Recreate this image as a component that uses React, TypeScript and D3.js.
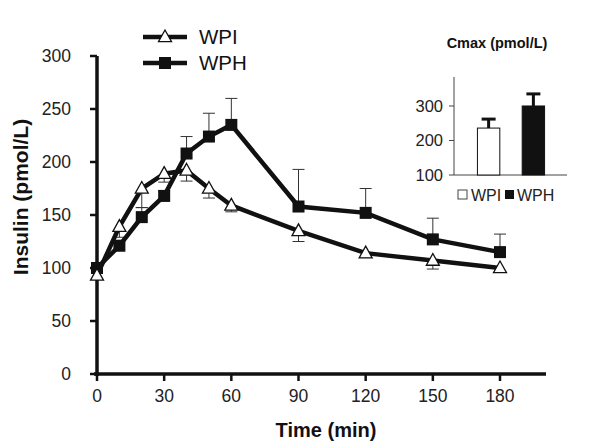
import * as d3 from 'd3';

const times = [0, 10, 20, 30, 40, 50, 60, 90, 120, 150, 180];
const wpi = [93, 139, 175, 189, 192, 175, 159, 135, 114, 107, 100];
const wpiErr = [0, 10, 18, 8, 10, 9, 6, 10, 4, 8, 4];
const wph = [100, 121, 148, 168, 208, 224, 235, 158, 152, 127, 115];
const wphErr = [0, 5, 9, 5, 16, 22, 25, 35, 23, 20, 17];
const xTicks = [0, 30, 60, 90, 120, 150, 180];
const yTicks = [0, 50, 100, 150, 200, 250, 300];

const cmaxGroups = ['WPI', 'WPH'];
const cmax = [236, 300];
const cmaxErr = [26, 35];
const cmaxTicks = [100, 200, 300];

const font = '"Liberation Sans", Arial, Helvetica, sans-serif';

function Triangle({ x, y, s = 13 }: { x: number; y: number; s?: number }) {
    const h = s * 0.9;
    return (
        <path
            d={`M${x},${y - h * 0.6}L${x + s / 2},${y + h * 0.4}L${x - s / 2},${y + h * 0.4}Z`}
            fill="#fff"
            stroke="#111"
            strokeWidth={1.3}
        />
    );
}

function Square({ x, y, s = 12 }: { x: number; y: number; s?: number }) {
    return <rect x={x - s / 2} y={y - s / 2} width={s} height={s} fill="#111" />;
}

export default function App() {
    const width = 591;
    const height = 448;

    const x = d3.scaleLinear().domain([0, 180]).range([97, 500]);
    const y = d3.scaleLinear().domain([0, 300]).range([374, 56]);

    const line = d3.line<number>()
        .x((d, i) => x(times[i]))
        .y(d => y(d));

    // inset scales
    const ix = d3.scaleBand().domain(cmaxGroups).range([464, 558]).paddingInner(0.5).paddingOuter(0.3);
    const iy = d3.scaleLinear().domain([100, 384]).range([175, 77]);

    const cap = 6;

    return (
        <svg width={width} height={height} style={{ position: 'absolute', left: 0, top: 0, background: '#fff' }} fontFamily={font}>
            {/* axes */}
            <line x1={97} x2={97} y1={y(300)} y2={376} stroke="#111" strokeWidth={3.5} />
            <line x1={94} x2={546} y1={y(0)} y2={y(0)} stroke="#111" strokeWidth={3.5} />
            {yTicks.map(t => (
                <g key={`y${t}`}>
                    <line x1={90} x2={97} y1={y(t)} y2={y(t)} stroke="#111" strokeWidth={2.5} />
                    <text x={71} y={y(t)} dy="0.35em" textAnchor="end" fontSize={17.5} fill="#222">{t}</text>
                </g>
            ))}
            {xTicks.map(t => (
                <g key={`x${t}`}>
                    <line x1={x(t)} x2={x(t)} y1={y(0)} y2={y(0) + 7} stroke="#111" strokeWidth={2.5} />
                    <text x={x(t)} y={402} textAnchor="middle" fontSize={17.5} fill="#222">{t}</text>
                </g>
            ))}
            <text x={326} y={437} textAnchor="middle" fontSize={20} fontWeight="bold" fill="#111">Time (min)</text>
            <text transform="translate(28,197) rotate(-90)" textAnchor="middle" fontSize={21} fontWeight="bold" fill="#111">Insulin (pmol/L)</text>

            {/* error bars */}
            {times.map((t, i) => wphErr[i] > 0 && (
                <g key={`eh${t}`} stroke="#333" strokeWidth={1}>
                    <line x1={x(t)} x2={x(t)} y1={y(wph[i])} y2={y(wph[i] + wphErr[i])} />
                    <line x1={x(t) - cap} x2={x(t) + cap} y1={y(wph[i] + wphErr[i])} y2={y(wph[i] + wphErr[i])} />
                </g>
            ))}
            {times.map((t, i) => wpiErr[i] > 0 && (
                <g key={`ei${t}`} stroke="#333" strokeWidth={1}>
                    <line x1={x(t)} x2={x(t)} y1={y(wpi[i])} y2={y(wpi[i] - wpiErr[i])} />
                    <line x1={x(t) - cap} x2={x(t) + cap} y1={y(wpi[i] - wpiErr[i])} y2={y(wpi[i] - wpiErr[i])} />
                </g>
            ))}

            {/* lines */}
            <path d={line(wpi) || ''} fill="none" stroke="#111" strokeWidth={4.5} />
            <path d={line(wph) || ''} fill="none" stroke="#111" strokeWidth={4.5} />
            {times.map((t, i) => <Square key={`s${t}`} x={x(t)} y={y(wph[i])} />)}
            {times.map((t, i) => <Triangle key={`t${t}`} x={x(t)} y={y(wpi[i])} />)}

            {/* legend */}
            <line x1={143} x2={187} y1={37} y2={37} stroke="#111" strokeWidth={4.5} />
            <Triangle x={165} y={37} />
            <text x={199} y={44} fontSize={20.5} fill="#111">WPI</text>
            <line x1={143} x2={187} y1={63} y2={63} stroke="#111" strokeWidth={4.5} />
            <Square x={165} y={63} />
            <text x={199} y={70} fontSize={20.5} fill="#111">WPH</text>

            {/* inset */}
            <text x={497} y={48} textAnchor="middle" fontSize={14.5} fontWeight="bold" fill="#111">Cmax (pmol/L)</text>
            <line x1={454} x2={454} y1={77} y2={175} stroke="#444" strokeWidth={1} />
            <line x1={454} x2={567} y1={175} y2={175} stroke="#444" strokeWidth={1} />
            {cmaxTicks.map(t => (
                <g key={`c${t}`}>
                    <line x1={449} x2={454} y1={iy(t)} y2={iy(t)} stroke="#444" strokeWidth={1} />
                    <text x={443} y={iy(t)} dy="0.35em" textAnchor="end" fontSize={16.5} fill="#222">{t}</text>
                </g>
            ))}
            {cmaxGroups.map((g, i) => {
                const bx = ix(g) || 0;
                const cx = bx + ix.bandwidth() / 2;
                return (
                    <g key={g}>
                        <line x1={cx} x2={cx} y1={iy(cmax[i])} y2={iy(cmax[i] + cmaxErr[i])} stroke="#111" strokeWidth={3} />
                        <line x1={cx - 7} x2={cx + 7} y1={iy(cmax[i] + cmaxErr[i])} y2={iy(cmax[i] + cmaxErr[i])} stroke="#111" strokeWidth={3} />
                        <rect x={bx} y={iy(cmax[i])} width={ix.bandwidth()} height={iy(100) - iy(cmax[i])}
                            fill={i === 0 ? '#fff' : '#111'} stroke="#111" strokeWidth={1} />
                    </g>
                );
            })}
            <rect x={458} y={190} width={9} height={9} fill="#fff" stroke="#444" strokeWidth={1} />
            <text x={471} y={201} fontSize={16} fill="#222">WPI</text>
            <rect x={505} y={190} width={9} height={9} fill="#111" />
            <text x={517} y={201} fontSize={16} fill="#222">WPH</text>
        </svg>
    );
}
